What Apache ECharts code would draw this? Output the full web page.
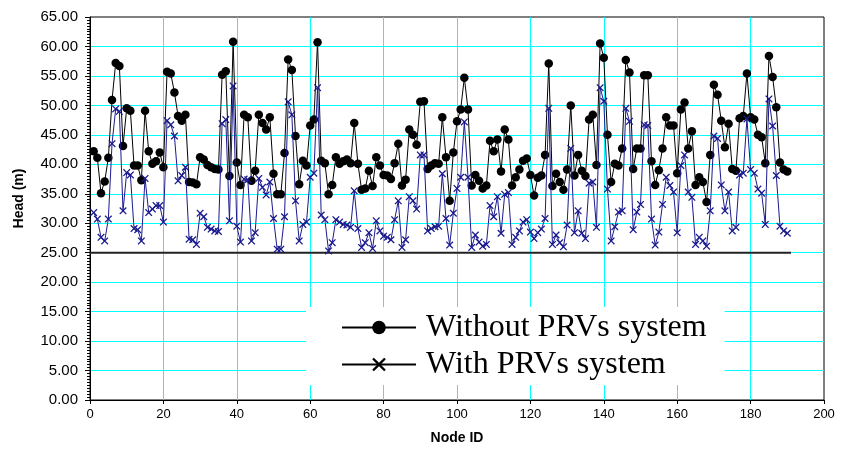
<!DOCTYPE html>
<html><head><meta charset="utf-8">
<script src="https://cdn.jsdelivr.net/npm/echarts@6/dist/echarts.min.js"></script>
<style>html,body{margin:0;padding:0;background:#fff}#c{width:841px;height:455px}</style>
</head><body><div id="c"></div>
<script>
// Head (m) at nodes 1..190
const headWithout = [
42.2,41.1,35.1,37.1,41.1,50.9,57.2,56.7,43.1,49.5,
49.1,39.8,39.8,37.3,49.1,42.2,40.1,40.5,42.0,39.5,
55.7,55.4,52.2,48.2,47.4,48.4,37.0,36.9,36.6,41.2,
40.8,39.9,39.5,39.2,39.1,55.2,55.8,38.0,60.8,40.3,
36.5,48.4,48.0,37.2,38.9,48.4,47.0,45.9,48.0,38.4,
34.9,34.9,41.9,57.8,56.0,44.8,36.6,40.6,39.8,46.6,
47.6,60.7,40.6,40.2,34.9,36.5,41.2,40.1,40.5,40.8,
40.2,47.0,40.1,35.7,35.9,38.9,36.3,41.2,39.8,38.2,
38.1,37.5,40.2,43.5,36.4,37.4,45.9,45.0,43.3,50.6,
50.7,39.2,39.8,40.2,40.1,48.0,41.2,33.8,42.0,47.3,
49.3,54.7,49.3,36.4,38.2,37.2,35.9,36.4,44.0,42.2,
44.2,38.8,45.9,44.2,36.4,37.8,39.1,40.6,41.0,38.2,
34.7,37.7,38.1,41.6,57.1,36.3,38.4,37.0,35.7,39.1,
50.0,38.1,41.6,38.9,38.0,47.6,48.4,39.9,60.5,58.1,
45.0,37.0,40.1,39.8,42.7,57.7,55.6,39.2,42.7,42.7,
55.1,55.1,40.5,36.5,39.0,42.7,48.0,46.6,46.6,38.5,
49.3,50.5,42.7,45.6,36.5,37.8,37.0,33.6,41.6,53.5,
51.8,47.4,42.9,46.9,39.2,38.9,47.8,48.2,55.4,48.0,
47.6,45.0,44.6,40.2,58.4,54.8,49.7,40.3,39.1,38.8
];
const headWith = [
31.8,30.7,27.6,27.0,30.7,43.5,49.4,49.0,32.1,38.6,
38.2,29.1,28.9,27.0,37.6,31.8,32.4,33.0,33.0,30.2,
47.4,46.7,44.8,37.2,38.1,39.5,27.3,27.2,26.4,31.7,
31.1,29.3,29.0,28.7,28.6,46.9,47.6,30.4,53.3,29.5,
26.8,37.5,37.4,27.0,28.4,37.6,36.1,34.8,37.0,30.8,
25.6,25.6,31.1,50.6,48.4,33.8,27.0,29.8,30.2,37.8,
38.5,53.0,31.4,30.6,25.3,26.7,30.6,30.2,29.8,29.7,
29.3,35.5,29.1,25.9,26.7,28.4,25.7,30.4,28.7,27.8,
27.6,27.2,30.6,33.8,25.9,27.2,34.5,33.8,32.4,41.6,
41.6,28.7,29.1,29.4,29.5,38.4,30.8,26.3,31.7,35.9,
37.8,47.2,37.8,25.9,28.0,26.8,26.1,26.4,33.0,31.1,
34.5,28.3,34.9,35.2,26.4,27.6,28.7,30.2,30.6,28.5,
27.4,28.4,29.0,30.8,49.5,26.4,28.0,26.7,26.0,29.7,
42.7,28.4,32.1,28.3,27.4,36.8,37.0,29.3,53.0,50.7,
35.8,27.0,29.4,31.9,32.1,49.5,47.3,28.9,31.9,33.2,
46.7,46.6,30.7,26.3,28.5,33.2,37.8,36.4,35.3,28.4,
39.8,41.6,35.3,34.4,26.4,27.6,27.0,26.1,32.1,44.8,
44.4,36.5,32.1,35.3,28.7,29.3,38.2,38.5,47.7,39.1,
38.5,35.8,35.1,29.8,51.1,46.5,38.1,29.5,28.7,28.3
];
const nodeIds = headWithout.map((_, i) => i + 1);
const minHeadLine = [[0, 25], [191, 25]];
const seriesNames = ['Without PRVs system', 'With PRVs system'];

const xMark = 'path://M0,1.2 L1.2,0 L5,3.8 L8.8,0 L10,1.2 L6.2,5 L10,8.8 L8.8,10 L5,6.2 L1.2,10 L0,8.8 L3.8,5 Z';
const navy = '#1a1a8e';

const chart = echarts.init(document.getElementById('c'));
chart.setOption({
  animation: false,
  backgroundColor: '#fff',
  grid: { left: 90, right: 17, top: 17, bottom: 55, show: true, borderColor: '#000', borderWidth: 1 },
  xAxis: {
    type: 'value', min: 0, max: 200, interval: 20,
    axisLine: { show: true, onZero: false, lineStyle: { color: '#000', width: 1 } },
    axisTick: { show: true, length: 4, lineStyle: { color: '#000' } },
    axisLabel: { color: '#000', fontFamily: 'Liberation Sans, Arial, sans-serif', fontSize: 13, margin: 8 },
    splitLine: { show: true, showMinLine: false, showMaxLine: false, lineStyle: { color: '#00ffff', width: 1 } }
  },
  yAxis: {
    type: 'value', min: 0, max: 65, interval: 5,
    axisLine: { show: true, lineStyle: { color: '#000', width: 1 } },
    axisTick: { show: true, length: 5, lineStyle: { color: '#000' } },
    minorTick: { show: true, splitNumber: 10, length: 3, lineStyle: { color: '#000' } },
    axisLabel: { color: '#000', fontFamily: 'Liberation Sans, Arial, sans-serif', fontSize: 15, margin: 12, formatter: v => v.toFixed(2) },
    splitLine: { show: true, showMinLine: false, showMaxLine: false, lineStyle: { color: '#00ffff', width: 1 } }
  },
  legend: {
    orient: 'vertical', left: 306, top: 307, padding: [4, 18, 4, 35],
    backgroundColor: '#fff', itemWidth: 74, itemHeight: 17, itemGap: 4,
    textStyle: { fontFamily: 'Liberation Serif, Times New Roman, serif', fontSize: 32, lineHeight: 33, color: '#000', padding: [0, 0, 0, 5] },
    data: [
      { name: seriesNames[0], itemStyle: { color: '#000' }, lineStyle: { color: '#000', width: 2 } },
      { name: seriesNames[1], itemStyle: { color: '#000' }, lineStyle: { color: '#000', width: 2 } }
    ],
    z: 10
  },
  graphic: [
    { type: 'text', x: 457, y: 438, style: { text: 'Node ID', font: 'bold 14px "Liberation Sans", Arial, sans-serif', fill: '#000', textAlign: 'center', textVerticalAlign: 'middle', align: 'center', verticalAlign: 'middle' } },
    { type: 'text', x: 19.5, y: 198.5, rotation: Math.PI / 2, style: { text: 'Head (m)', font: 'bold 14px "Liberation Sans", Arial, sans-serif', fill: '#000', textAlign: 'center', textVerticalAlign: 'middle', align: 'center', verticalAlign: 'middle' } }
  ],
  series: [
    {
      name: 'min', type: 'line', data: minHeadLine, symbol: 'none', silent: true,
      lineStyle: { color: '#222', width: 2 }, z: 1
    },
    {
      name: seriesNames[0], type: 'line', data: nodeIds.map((n, i) => [n, headWithout[i]]),
      symbol: 'circle', symbolSize: 8.5, itemStyle: { color: '#000' },
      lineStyle: { color: '#000', width: 1 }, z: 2
    },
    {
      name: seriesNames[1], type: 'line', data: nodeIds.map((n, i) => [n, headWith[i]]),
      symbol: xMark, symbolSize: 7.5, itemStyle: { color: navy },
      lineStyle: { color: navy, width: 1 }, z: 3
    }
  ]
});
</script></body></html>
